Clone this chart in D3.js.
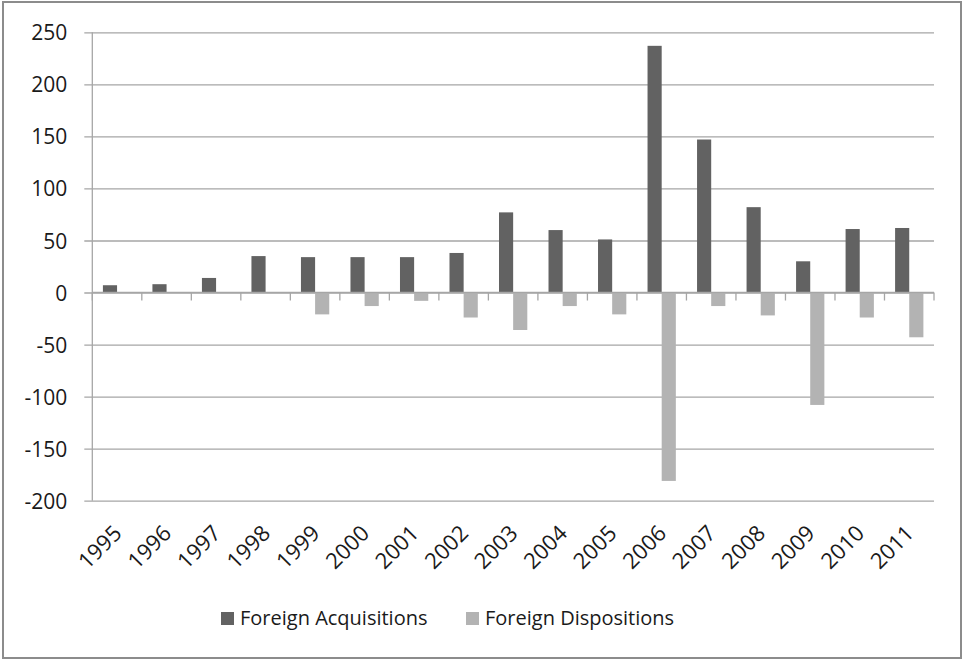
<!DOCTYPE html>
<html>
<head>
<meta charset="utf-8">
<script src="https://cdn.jsdelivr.net/npm/d3@7"></script>
<style>
  body { margin: 0; background: #fff; }
  svg text { font-family: "Open Sans", "Noto Sans", sans-serif; fill: #1a1a1a; }
</style>
</head>
<body>
<div id="chart"></div>
<script>
const years = ["1995", "1996", "1997", "1998", "1999", "2000", "2001", "2002", "2003",
  "2004", "2005", "2006", "2007", "2008", "2009", "2010", "2011"];
const acquisitions = [7, 8, 14, 35, 34, 34, 34, 38, 77, 60, 51, 237, 147, 82, 30, 61, 62];
const dispositions = [0, 0, 0, 0, -21, -13, -8, -24, -36, -13, -21, -181, -13, -22, -108, -24, -43];
const seriesNames = ["Foreign Acquisitions", "Foreign Dispositions"];
const yTicks = [-200, -150, -100, -50, 0, 50, 100, 150, 200, 250];

const width = 964, height = 660;
const plotLeft = 92.3, plotRight = 934, plotTop = 32.3, plotBottom = 500.7;

const svg = d3.select("#chart")
  .append("svg")
    .attr("width", width)
    .attr("height", height);

// outer frame
svg.append("rect")
  .attr("x", 3).attr("y", 2)
  .attr("width", 958).attr("height", 656)
  .attr("fill", "none")
  .attr("stroke", "#8c8c8c")
  .attr("stroke-width", 2);

const x = d3.scaleBand().domain(years).range([plotLeft, plotRight]).padding(0);
const bw = x.bandwidth();
const gap = bw * 1.5 / 3.5;   // excel-ish gap width 150%
const x1 = d3.scaleBand().domain(seriesNames).range([gap / 2, bw - gap / 2]);
const y = d3.scaleLinear().domain([-200, 250]).range([plotBottom, plotTop]);
const color = d3.scaleOrdinal().domain(seriesNames).range(["#626262", "#b3b3b3"]);

// gridlines + y labels
const yAxis = svg.append("g")
  .attr("transform", `translate(${plotLeft},0)`)
  .call(d3.axisLeft(y).tickValues(yTicks).tickSize(-(plotRight - plotLeft)).tickPadding(0)
    .tickFormat(d => String(d)));
yAxis.select(".domain").remove();
yAxis.selectAll(".tick line")
  .attr("x1", -8)
  .attr("stroke", "#a6a6a6")
  .attr("stroke-width", 1.3);
yAxis.selectAll(".tick text")
  .attr("x", -25)
  .attr("dy", "0.36em")
  .style("font-size", "21px")
  .attr("fill", "#1a1a1a");

// vertical axis line
svg.append("line")
  .attr("x1", plotLeft).attr("x2", plotLeft)
  .attr("y1", plotTop).attr("y2", plotBottom)
  .attr("stroke", "#a6a6a6")
  .attr("stroke-width", 1.3);

// bars
const rows = years.map((yr, i) => ({ year: yr, values: [acquisitions[i], dispositions[i]] }));
const groups = svg.append("g").selectAll("g")
  .data(rows)
  .join("g")
    .attr("transform", d => `translate(${x(d.year)},0)`);

groups.selectAll("rect")
  .data(d => d.values.map((v, j) => ({ key: seriesNames[j], value: v })))
  .join("rect")
    .attr("x", d => x1(d.key))
    .attr("width", x1.bandwidth())
    .attr("y", d => y(Math.max(0, d.value)))
    .attr("height", d => Math.abs(y(d.value) - y(0)))
    .attr("fill", d => color(d.key));

// category axis at zero
const xAxis = svg.append("g")
  .attr("transform", `translate(0,${y(0)})`);
xAxis.append("line")
  .attr("x1", plotLeft).attr("x2", plotRight)
  .attr("stroke", "#a6a6a6").attr("stroke-width", 1.3);
xAxis.selectAll(".cat-tick")
  .data(years.concat(["end"]))
  .join("line")
    .attr("class", "cat-tick")
    .attr("x1", (d, i) => plotLeft + i * bw)
    .attr("x2", (d, i) => plotLeft + i * bw)
    .attr("y1", 0).attr("y2", 8)
    .attr("stroke", "#a6a6a6").attr("stroke-width", 1.3);

// rotated year labels below plot
svg.append("g").selectAll("text")
  .data(years)
  .join("text")
    .attr("text-anchor", "end")
    .attr("transform", d => `translate(${x(d) + bw / 2 + 6},${plotBottom + 34}) rotate(-45)`)
    .style("font-size", "22px")
    .text(d => d);

// legend
const legend = svg.append("g").selectAll("g")
  .data(seriesNames)
  .join("g")
    .attr("transform", (d, i) => `translate(${i === 0 ? 221 : 466},612)`);
legend.append("rect")
  .attr("width", 13).attr("height", 13)
  .attr("fill", color);
legend.append("text")
  .attr("x", 19)
  .attr("y", 13)
  .style("font-size", "20px")
  .text(d => d);
</script>
</body>
</html>
